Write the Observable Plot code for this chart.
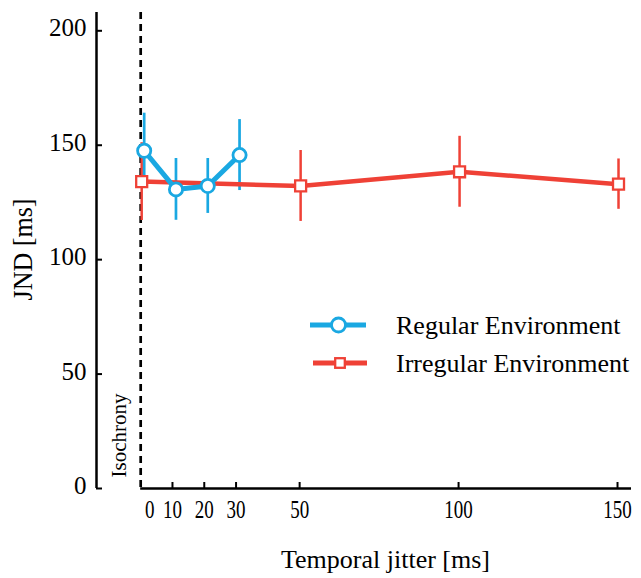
<!DOCTYPE html>
<html><head><meta charset="utf-8">
<script src="https://cdn.jsdelivr.net/npm/d3@7"></script>
<script src="https://cdn.jsdelivr.net/npm/@observablehq/plot@0.6"></script>
<style>body{margin:0;background:#fff} #chart{width:641px;height:578px}</style>
</head><body><div id="chart"></div>
<script>
const jitterRegular = [0, 10, 20, 30];
const jndRegular = [147.6, 130.7, 132.2, 145.7];
const errRegular = [16.4, 13.5, 12.0, 15.5];
const jitterIrregular = [0, 50, 100, 150];
const jndIrregular = [134.1, 132.2, 138.4, 133.0];
const errIrregular = [17.0, 15.5, 15.5, 11.0];
const xTickValues = [0, 10, 20, 30, 50, 100, 150];
const yTickValues = [0, 50, 100, 150, 200];
const seriesNames = ["Regular Environment", "Irregular Environment"];
const xTitle = "Temporal jitter [ms]";
const yTitle = "JND [ms]";
const markerLabel = "Isochrony";

const BLUE = "#1aa8e2", RED = "#ef4136";
const font = "'Liberation Serif', 'Times New Roman', Times, serif";
const xDomain = [-13.9, 154.4];
const yDomain = [0, 208];

const regular = jitterRegular.map((x, i) => ({x, y: jndRegular[i], lo: jndRegular[i] - errRegular[i], hi: jndRegular[i] + errRegular[i]}));
const irregular = jitterIrregular.map((x, i) => ({x, y: jndIrregular[i], lo: jndIrregular[i] - errIrregular[i], hi: jndIrregular[i] + errIrregular[i]}));
const xNonZero = xTickValues.filter(d => d !== 0);
const xZero = xTickValues.filter(d => d === 0);

const chart = Plot.plot({
  width: 641, height: 578,
  marginLeft: 96, marginRight: 10, marginTop: 12, marginBottom: 90,
  style: {fontFamily: font, fontSize: "24px", color: "#000", background: "#fff"},
  x: {domain: xDomain, label: null},
  y: {domain: yDomain, label: null},
  marks: [
    Plot.ruleX([xDomain[0]], {strokeWidth: 2.5}),
    Plot.ruleY([0], {x1: 0, x2: xDomain[1], strokeWidth: 2.5}),
    Plot.ruleX([0], {strokeWidth: 2.7, strokeDasharray: "7,5"}),
    Plot.axisY(yTickValues, {tickSize: 6, dx: 6, strokeWidth: 2, tickFormat: () => "", label: null}),
    Plot.axisY(yTickValues, {tickSize: 0, tickPadding: 10, fontSize: 25, dy: -2.5, label: null}),
    Plot.axisX(xNonZero, {tickSize: 6, dy: -6, strokeWidth: 2, tickFormat: () => "", label: null}),
    Plot.axisX(xNonZero, {tickSize: 0, tickPadding: 12, fontSize: 25, label: null}),
    Plot.axisX(xZero, {tickSize: 0, tickPadding: 12, fontSize: 25, dx: 9, label: null}),
    Plot.ruleX(irregular, {x: "x", y1: "lo", y2: "hi", stroke: RED, strokeWidth: 2.5, dx: 1}),
    Plot.ruleX(regular, {x: "x", y1: "lo", y2: "hi", stroke: BLUE, strokeWidth: 2.7, dx: 3.5}),
    Plot.line(irregular, {x: "x", y: "y", stroke: RED, strokeWidth: 4.5, dx: 1}),
    Plot.line(regular, {x: "x", y: "y", stroke: BLUE, strokeWidth: 5, dx: 3.5}),
    Plot.dot(irregular, {x: "x", y: "y", symbol: "square", r: 6.2, fill: "white", stroke: RED, strokeWidth: 2.3, dx: 1}),
    Plot.dot(regular, {x: "x", y: "y", r: 6.6, fill: "white", stroke: BLUE, strokeWidth: 2.8, dx: 3.5}),
    Plot.text([markerLabel], {text: d => d, frameAnchor: "bottom-left", textAnchor: "middle", lineAnchor: "middle", rotate: -90, dx: 23, dy: -53, fontSize: 21}),
    Plot.text([yTitle], {text: d => d, frameAnchor: "left", textAnchor: "middle", lineAnchor: "middle", rotate: -90, dx: -73.5, dy: -1, fontSize: 28}),
    Plot.text([xTitle], {text: d => d, frameAnchor: "bottom", textAnchor: "middle", lineAnchor: "middle", dx: 21.5, dy: 71, fontSize: 26})
  ]
});
document.getElementById("chart").appendChild(chart);

const svg = d3.select(chart);
const legendItems = [
  {name: seriesNames[0], color: BLUE, symbol: "circle", x1: 310, x2: 366, mx: 338.5, y: 325},
  {name: seriesNames[1], color: RED, symbol: "square", x1: 313, x2: 367, mx: 340, y: 363}
];
const lg = svg.append("g").attr("font-family", font).attr("font-size", 26).attr("text-anchor", "start");
legendItems.forEach(it => {
  lg.append("line").attr("x1", it.x1).attr("x2", it.x2).attr("y1", it.y).attr("y2", it.y)
    .attr("stroke", it.color).attr("stroke-width", 5);
  if (it.symbol === "circle") {
    lg.append("circle").attr("cx", it.mx).attr("cy", it.y).attr("r", 7)
      .attr("fill", "white").attr("stroke", it.color).attr("stroke-width", 2.8);
  } else {
    lg.append("rect").attr("x", it.mx - 4.8).attr("y", it.y - 4.8).attr("width", 9.6).attr("height", 9.6)
      .attr("fill", "white").attr("stroke", it.color).attr("stroke-width", 2.3);
  }
  lg.append("text").attr("x", 396).attr("y", it.y + 8.5).attr("fill", "#000").attr("text-anchor", "start").text(it.name);
});

svg.selectAll('g[aria-label="x-axis tick label"] text').each(function () {
  const L = this.getComputedTextLength();
  this.setAttribute("textLength", L * 0.76);
  this.setAttribute("lengthAdjust", "spacingAndGlyphs");
});
svg.selectAll("text").filter(function () { return this.textContent === yTitle; })
  .attr("textLength", 102).attr("lengthAdjust", "spacingAndGlyphs");
</script>
</body></html>
